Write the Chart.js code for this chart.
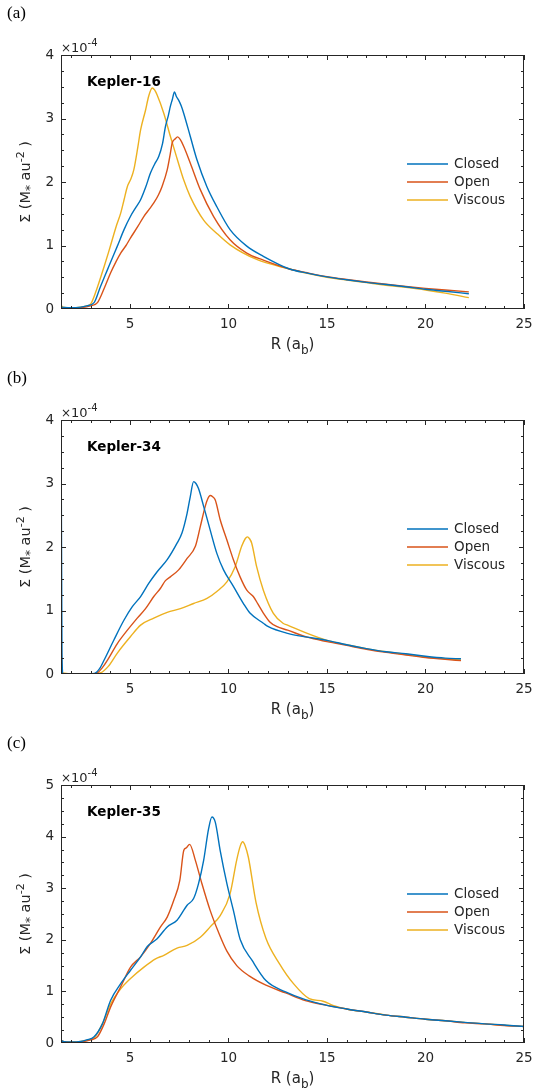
<!DOCTYPE html>
<html>
<head>
<meta charset="utf-8">
<script src="https://cdn.jsdelivr.net/npm/chart.js@4.4.1/dist/chart.umd.min.js"></script>
<style>
  body { margin: 0; background: #fff; }
  #wrap { position: relative; width: 544px; height: 1092px; }
  canvas { position: absolute; left: 0; }
</style>
</head>
<body>
<div id="wrap">
  <canvas id="c16" width="544" height="366" style="top:0px"></canvas>
  <canvas id="c34" width="544" height="366" style="top:366px"></canvas>
  <canvas id="c35" width="544" height="360" style="top:732px"></canvas>
</div>
<script>
// surface density profiles, [R (a_b), Sigma in units of 1e-4 M* au^-2]
const seriesNames = ['Closed', 'Open', 'Viscous'];
const seriesColors = ['#0072BD', '#D95319', '#EDB120'];
const xTicks = [5, 10, 15, 20, 25];

// Kepler-16
const closed16 = [[1.5,0.03],[2,0.02],[2.5,0.03],[2.8,0.05],[3.18,0.1],[3.5,0.35],[3.86,0.62],[4.1,0.8],[4.36,0.99],[4.7,1.25],
  [5.03,1.46],[5.3,1.6],[5.54,1.72],[5.8,1.92],[6.04,2.14],[6.25,2.28],[6.46,2.4],[6.65,2.6],[6.8,2.87],[6.95,3.05],
  [7.05,3.19],[7.15,3.3],[7.26,3.42],[7.35,3.35],[7.47,3.29],[7.6,3.2],[7.73,3.08],[8.06,2.72],[8.4,2.35],[8.9,1.93],
  [9.41,1.61],[10.08,1.25],[10.93,0.99],[11.77,0.83],[13.1,0.63],[14,0.565],[15,0.505],[16,0.46],[17,0.42],[18,0.385],
  [19,0.35],[20,0.31],[21,0.28],[22.2,0.24]];
const open16 = [[1.5,0.02],[2,0.01],[2.5,0.02],[3,0.05],[3.35,0.1],[3.7,0.33],[4.02,0.57],[4.3,0.75],[4.53,0.88],[4.8,1.0],
  [5.03,1.12],[5.4,1.3],[5.71,1.46],[6.0,1.58],[6.21,1.67],[6.45,1.8],[6.63,1.93],[6.89,2.19],[7.05,2.45],[7.14,2.61],
  [7.3,2.68],[7.42,2.71],[7.55,2.67],[7.73,2.56],[8.06,2.3],[8.57,1.88],[9.24,1.46],[10.08,1.09],[10.93,0.88],[11.77,0.77],
  [13.1,0.63],[14,0.57],[15,0.51],[16,0.465],[17,0.425],[18,0.39],[19,0.355],[20,0.325],[21,0.3],[22.2,0.27]];
const viscous16 = [[1.5,0.06],[1.6,0.03],[2,0.02],[2.5,0.03],[2.8,0.05],[3.01,0.08],[3.3,0.3],[3.69,0.67],[3.9,0.88],[4.1,1.09],
  [4.3,1.3],[4.53,1.51],[4.7,1.72],[4.87,1.93],[5.05,2.05],[5.2,2.2],[5.4,2.55],[5.54,2.82],[5.79,3.13],[5.95,3.35],
  [6.13,3.48],[6.25,3.45],[6.38,3.37],[6.72,3.08],[7.05,2.72],[7.39,2.37],[7.73,2.03],[8.06,1.77],[8.74,1.4],[9.41,1.19],
  [10.08,1.01],[11.43,0.78],[13.1,0.63],[14,0.56],[15,0.5],[16,0.455],[17,0.415],[18,0.375],[19,0.34],[20,0.3],
  [21,0.25],[22.2,0.18]];

// Kepler-34
const closed34 = [[1.5,4.3],[1.55,0.3],[1.6,0],[2.5,0],[3.2,0.01],[3.45,0.08],[3.69,0.22],[4.19,0.54],[4.7,0.85],[5.12,1.06],
  [5.54,1.22],[5.96,1.43],[6.38,1.61],[6.89,1.8],[7.39,2.06],[7.64,2.22],[7.9,2.53],[8.06,2.79],[8.23,3.03],[8.35,3.0],
  [8.48,2.92],[8.74,2.64],[9.07,2.27],[9.41,1.9],[9.75,1.64],[10.25,1.38],[10.76,1.11],[11.09,0.96],[11.77,0.8],[12,0.75],
  [13,0.64],[14,0.58],[15,0.53],[16,0.46],[17,0.4],[18,0.35],[19,0.32],[20,0.28],[21,0.25],[21.8,0.24]];
const open34 = [[1.5,0.65],[1.55,0.05],[1.6,0],[3,0],[3.35,0.02],[3.6,0.1],[3.86,0.22],[4.36,0.48],[4.87,0.69],[5.37,0.88],
  [5.79,1.03],[6.21,1.22],[6.55,1.35],[6.8,1.47],[7.05,1.53],[7.47,1.64],[7.9,1.82],[8.32,2.01],[8.57,2.32],[8.82,2.64],
  [8.95,2.76],[9.07,2.81],[9.2,2.79],[9.33,2.74],[9.58,2.43],[9.92,2.11],[10.25,1.8],[10.59,1.53],[10.93,1.32],[11.26,1.22],
  [11.5,1.1],[11.77,0.96],[12.1,0.82],[12.44,0.75],[13,0.69],[14,0.58],[15,0.51],[16,0.45],[17,0.39],[18,0.34],
  [19,0.3],[20,0.26],[21,0.23],[21.8,0.21]];
const viscous34 = [[1.5,0.02],[2,0],[3,0],[3.52,0.02],[3.9,0.12],[4.36,0.33],[5.03,0.59],[5.54,0.77],[6.21,0.88],[6.89,0.97],
  [7.56,1.03],[8.23,1.11],[8.91,1.19],[9.41,1.3],[9.92,1.45],[10.34,1.69],[10.67,2.01],[10.85,2.13],[10.96,2.16],[11.07,2.13],
  [11.18,2.06],[11.43,1.69],[11.77,1.32],[12.27,0.96],[12.77,0.8],[13,0.77],[14,0.64],[15,0.53],[16,0.46],[17,0.4],
  [18,0.35],[19,0.31],[20,0.27],[21,0.24],[21.8,0.22]];

// Kepler-35
const closed35 = [[1.5,0.06],[1.6,0.03],[2,0.02],[2.5,0.03],[2.8,0.06],[3.18,0.12],[3.6,0.37],[4.02,0.83],[4.53,1.15],[5.03,1.41],
  [5.54,1.67],[5.88,1.87],[6.38,2.02],[6.89,2.25],[7.39,2.38],[7.9,2.67],[8.23,2.8],[8.48,3.09],[8.74,3.54],[8.99,4.15],
  [9.16,4.38],[9.33,4.28],[9.58,3.73],[9.92,3.09],[10.25,2.57],[10.6,2.0],[11.2,1.6],[11.9,1.21],[12.9,0.99],[13.9,0.84],
  [15,0.73],[16,0.66],[17,0.6],[18,0.54],[19,0.5],[20,0.46],[21,0.43],[22,0.4],[23,0.37],[24,0.35],[25,0.32]];
const open35 = [[1.5,0.04],[2,0.01],[2.5,0.02],[3,0.06],[3.35,0.12],[3.7,0.38],[4.02,0.7],[4.53,1.09],[5.03,1.47],[5.54,1.67],
  [6.04,1.93],[6.55,2.25],[6.89,2.44],[7.22,2.76],[7.53,3.15],[7.73,3.73],[7.85,3.78],[8.03,3.85],[8.32,3.54],[8.65,3.09],
  [9.07,2.57],[9.49,2.15],[9.92,1.78],[10.42,1.5],[11.05,1.3],[11.9,1.12],[12.9,0.97],[13.9,0.82],[15,0.73],[16,0.66],
  [17,0.6],[18,0.54],[19,0.5],[20,0.46],[21,0.43],[22,0.39],[23,0.37],[24,0.34],[25,0.32]];
const viscous35 = [[1.5,0.06],[1.6,0.03],[2,0.02],[2.5,0.03],[2.8,0.05],[3.18,0.1],[3.6,0.37],[4.02,0.76],[4.53,1.05],[5.03,1.25],
  [5.71,1.47],[6.3,1.63],[6.72,1.7],[7.39,1.84],[7.9,1.89],[8.57,2.05],[9.07,2.25],[9.58,2.47],[10.08,2.89],[10.42,3.55],
  [10.6,3.82],[10.72,3.9],[10.85,3.82],[11.01,3.6],[11.4,2.72],[11.9,2.03],[12.6,1.53],[13.3,1.15],[14.1,0.86],[14.8,0.81],
  [15.3,0.73],[16.1,0.65],[17,0.6],[18,0.54],[19,0.5],[20,0.46],[21,0.43],[22,0.4],[23,0.37],[24,0.345],[25,0.32]];

const panels = [
  { canvas: 'c16', label: '(a)', name: 'Kepler-16', yMax: 4, pad: { top: 55, bottom: 57 }, data: [closed16, open16, viscous16] },
  { canvas: 'c34', label: '(b)', name: 'Kepler-34', yMax: 4, pad: { top: 54, bottom: 58 }, data: [closed34, open34, viscous34] },
  { canvas: 'c35', label: '(c)', name: 'Kepler-35', yMax: 5, pad: { top: 53, bottom: 49 }, data: [closed35, open35, viscous35] }
];

const TXT = '#262626';
const SANS = '"DejaVu Sans", sans-serif';

// draws a run of text pieces (with sub/superscripts) starting at x
function drawPieces(ctx, pieces, x, y) {
  pieces.forEach(p => {
    ctx.font = p.font;
    ctx.fillText(p.t, x, y + (p.dy || 0));
    x += ctx.measureText(p.t).width;
  });
}
function piecesWidth(ctx, pieces) {
  let w = 0;
  pieces.forEach(p => { ctx.font = p.font; w += ctx.measureText(p.t).width; });
  return w;
}

const matlabAxes = {
  id: 'matlabAxes',
  afterDraw(chart, args, opts) {
    const { ctx, chartArea: a, scales: { x, y } } = chart;
    ctx.save();
    ctx.strokeStyle = TXT;
    ctx.fillStyle = TXT;
    ctx.lineWidth = 1;
    ctx.strokeRect(Math.round(a.left) + 0.5, Math.round(a.top) + 0.5, Math.round(a.width) - 1, Math.round(a.height) - 1);

    // x ticks, top and bottom, inward
    ctx.beginPath();
    for (let v = 2; v <= 25; v++) {
      const px = Math.round(x.getPixelForValue(v)) + 0.5;
      const len = v % 5 === 0 ? 5 : 3;
      ctx.moveTo(px, a.bottom); ctx.lineTo(px, a.bottom - len);
      ctx.moveTo(px, a.top); ctx.lineTo(px, a.top + len);
    }
    // y ticks, left and right
    for (let v = 0.25; v < opts.yMax; v += 0.25) {
      const py = Math.round(y.getPixelForValue(v)) + 0.5;
      const len = Math.abs(v - Math.round(v)) < 1e-6 ? 5 : 3;
      ctx.moveTo(a.left, py); ctx.lineTo(a.left + len, py);
      ctx.moveTo(a.right, py); ctx.lineTo(a.right - len, py);
    }
    ctx.stroke();

    // tick labels
    ctx.font = '13.5px ' + SANS;
    ctx.textAlign = 'center';
    ctx.textBaseline = 'middle';
    xTicks.forEach(v => ctx.fillText(String(v), x.getPixelForValue(v), a.bottom + 15));
    ctx.textAlign = 'right';
    for (let v = 0; v <= opts.yMax; v++) ctx.fillText(String(v), a.left - 7, y.getPixelForValue(v));

    // exponent
    ctx.textAlign = 'left';
    ctx.textBaseline = 'alphabetic';
    drawPieces(ctx, [
      { t: '\u00d7', font: '12px ' + SANS },
      { t: '10', font: '13px ' + SANS },
      { t: '-4', font: '10px ' + SANS, dy: -6 }
    ], a.left, a.top - 3);

    // x title
    const xt = [
      { t: 'R (a', font: '15px ' + SANS },
      { t: 'b', font: '12px ' + SANS, dy: 5 },
      { t: ')', font: '15px ' + SANS }
    ];
    drawPieces(ctx, xt, (a.left + a.right) / 2 - piecesWidth(ctx, xt) / 2, a.bottom + 40);

    // y title, rotated
    const yt = [
      { t: '\u03a3 (M', font: '14.5px ' + SANS },
      { t: '*', font: '12px ' + SANS, dy: 4 },
      { t: ' au', font: '14.5px ' + SANS },
      { t: '-2', font: '11px ' + SANS, dy: -6 },
      { t: ' )', font: '14.5px ' + SANS }
    ];
    ctx.save();
    ctx.translate(30, (a.top + a.bottom) / 2);
    ctx.rotate(-Math.PI / 2);
    drawPieces(ctx, yt, -piecesWidth(ctx, yt) / 2, 0);
    ctx.restore();

    // panel name
    ctx.font = 'bold 13.5px ' + SANS;
    ctx.textBaseline = 'middle';
    ctx.fillStyle = '#000';
    ctx.fillText(opts.name, a.left + 26, a.top + 27);

    // panel label
    ctx.font = '17px "Liberation Serif", serif';
    ctx.fillText(opts.label, 7, a.top - 41);

    // legend
    ctx.font = '13.5px ' + SANS;
    ctx.fillStyle = TXT;
    seriesNames.forEach((n, i) => {
      const ly = a.top + 109 + i * 18;
      ctx.strokeStyle = seriesColors[i];
      ctx.lineWidth = 1.4;
      ctx.beginPath();
      ctx.moveTo(a.right - 117, ly); ctx.lineTo(a.right - 76, ly);
      ctx.stroke();
      ctx.fillText(n, a.right - 70, ly);
    });
    ctx.restore();
  }
};

panels.forEach(p => {
  new Chart(document.getElementById(p.canvas), {
    type: 'line',
    data: {
      datasets: p.data.map((d, i) => ({
        label: seriesNames[i],
        data: d.map(pt => ({ x: pt[0], y: pt[1] })),
        borderColor: seriesColors[i],
        borderWidth: 1.4,
        pointRadius: 0,
        fill: false,
        cubicInterpolationMode: 'monotone'
      }))
    },
    options: {
      responsive: false,
      animation: false,
      devicePixelRatio: 1,
      layout: { padding: { left: 61, right: 20, top: p.pad.top, bottom: p.pad.bottom } },
      scales: {
        x: { type: 'linear', min: 1.5, max: 25, display: false },
        y: { type: 'linear', min: 0, max: p.yMax, display: false }
      },
      plugins: {
        legend: { display: false },
        tooltip: { enabled: false },
        matlabAxes: { yMax: p.yMax, name: p.name, label: p.label }
      }
    },
    plugins: [matlabAxes]
  });
});
</script>
</body>
</html>
